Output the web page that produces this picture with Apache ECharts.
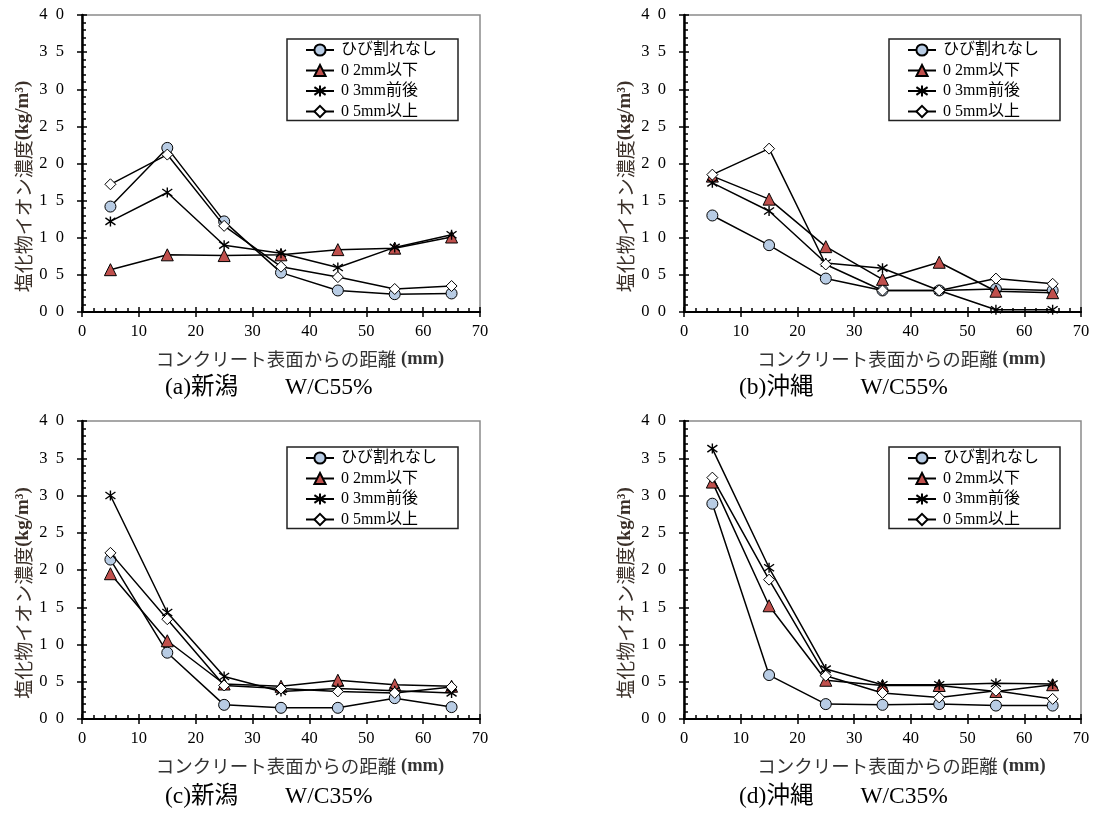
<!DOCTYPE html>
<html>
<head>
<meta charset="utf-8">
<script src="https://cdn.jsdelivr.net/npm/echarts@6/dist/echarts.min.js"></script>
<style>
html,body{margin:0;padding:0;background:#fff;}
#c{width:1097px;height:817px;}
</style>
</head>
<body>
<div id="c"></div>
<script>
// ---- data ----
const distances = [5, 15, 25, 35, 45, 55, 65];
const seriesNames = ['ひび割れなし', '0 2mm以下', '0 3mm前後', '0 5mm以上'];
const xTickLabels = ['0', '10', '20', '30', '40', '50', '60', '70'];
const yTickLabels = ['0  0', '0  5', '1  0', '1  5', '2  0', '2  5', '3  0', '3  5', '4  0'];
const captions = ['(a)新潟　　W/C55%', '(b)沖縄　　W/C55%', '(c)新潟　　W/C35%', '(d)沖縄　　W/C35%'];

// (a) 新潟 W/C55%
const a_none = [1.42, 2.21, 1.22, 0.53, 0.29, 0.24, 0.25];
const a_02   = [0.57, 0.77, 0.76, 0.77, 0.84, 0.86, 1.01];
const a_03   = [1.22, 1.61, 0.90, 0.79, 0.60, 0.87, 1.04];
const a_05   = [1.72, 2.12, 1.16, 0.61, 0.47, 0.31, 0.35];
// (b) 沖縄 W/C55%
const b_none = [1.30, 0.90, 0.45, 0.29, 0.29, 0.31, 0.29];
const b_02   = [1.83, 1.52, 0.88, 0.44, 0.67, 0.28, 0.26];
const b_03   = [1.74, 1.36, 0.66, 0.59, 0.29, 0.03, 0.03];
const b_05   = [1.85, 2.20, 0.64, 0.29, 0.29, 0.45, 0.38];
// (c) 新潟 W/C35%
const c_none = [2.14, 0.89, 0.19, 0.15, 0.15, 0.28, 0.16];
const c_02   = [1.95, 1.05, 0.47, 0.44, 0.52, 0.46, 0.44];
const c_03   = [3.00, 1.43, 0.57, 0.37, 0.41, 0.38, 0.35];
const c_05   = [2.23, 1.34, 0.45, 0.41, 0.37, 0.35, 0.43];
// (d) 沖縄 W/C35%
const d_none = [2.89, 0.59, 0.20, 0.19, 0.20, 0.18, 0.18];
const d_02   = [3.18, 1.52, 0.52, 0.45, 0.45, 0.37, 0.46];
const d_03   = [3.63, 2.03, 0.67, 0.46, 0.46, 0.48, 0.47];
const d_05   = [3.24, 1.87, 0.58, 0.35, 0.29, 0.38, 0.27];

const panels = [
  [a_none, a_02, a_03, a_05],
  [b_none, b_02, b_03, b_05],
  [c_none, c_02, c_03, c_05],
  [d_none, d_02, d_03, d_05]
];

// ---- layout ----
const grids = [
  {left: 82, top: 15, width: 398, height: 297},
  {left: 684, top: 15, width: 397, height: 297},
  {left: 82, top: 421, width: 398, height: 298},
  {left: 684, top: 421, width: 397, height: 298}
];
const legendPos = [[287, 39], [889, 39], [287, 447], [889, 447]];
const captionPos = [[165, 376], [739, 376], [165, 785], [739, 785]];

const SERIF = '"Liberation Serif", "Times New Roman", "Noto Sans CJK JP", serif';
const JP = '"Noto Sans CJK JP", sans-serif';

const asterisk = 'path://M0,1.5L10,8.5M0,8.5L10,1.5M5,0L5,10';
const symbolDefs = [
  {symbol: 'circle', symbolSize: 11, itemStyle: {color: '#b8cce4', borderColor: '#000', borderWidth: 1}},
  {symbol: 'triangle', symbolSize: 12, itemStyle: {color: '#c0504d', borderColor: '#000', borderWidth: 1}},
  {symbol: asterisk, symbolSize: 10, itemStyle: {color: '#000', borderColor: '#000', borderWidth: 1.4}},
  {symbol: 'diamond', symbolSize: 11, itemStyle: {color: '#fff', borderColor: '#000', borderWidth: 1}}
];

const xAxes = [], yAxes = [], series = [], legends = [], titles = [];

grids.forEach((g, k) => {
  xAxes.push({
    type: 'value', gridIndex: k, min: 0, max: 70, interval: 10, position: 'bottom',
    axisLine: {show: true, onZero: false, lineStyle: {color: '#000', width: 2}},
    axisTick: {show: true, inside: true, length: 5, lineStyle: {color: '#000', width: 1.5}},
    minorTick: {show: true, splitNumber: 5, length: 4, lineStyle: {color: '#000', width: 1.5}},
    splitLine: {show: false},
    axisLabel: {
      margin: 11, color: '#000', fontFamily: SERIF, fontSize: 16.5,
      formatter: v => xTickLabels[Math.round(v / 10)]
    },
    name: '{j|コンクリート表面からの距離}{e| (mm)}',
    nameLocation: 'middle', nameGap: 38,
    nameTextStyle: {
      padding: [0, 0, 0, 38],
      rich: {
        j: {fontFamily: JP, fontSize: 18.5, color: '#333'},
        e: {fontFamily: SERIF, fontSize: 18.5, fontWeight: 'bold', color: '#333'}
      }
    }
  });
  xAxes.push({
    type: 'value', gridIndex: k, min: 0, max: 70, interval: 10, position: 'bottom',
    axisLine: {show: false, onZero: false},
    axisTick: {show: true, inside: false, length: 5, lineStyle: {color: '#000', width: 1.5}},
    axisLabel: {show: false}, splitLine: {show: false}
  });
  yAxes.push({
    type: 'value', gridIndex: k, min: 0, max: 4, interval: 0.5, position: 'left',
    axisLine: {show: true, onZero: false, lineStyle: {color: '#000', width: 2.5}},
    axisTick: {show: true, inside: true, length: 5, lineStyle: {color: '#000', width: 1.5}},
    minorTick: {show: true, splitNumber: 5, length: 4, lineStyle: {color: '#000', width: 1.5}},
    splitLine: {show: false},
    axisLabel: {
      margin: 18, color: '#000', fontFamily: SERIF, fontSize: 16.5,
      formatter: v => yTickLabels[Math.round(v / 0.5)]
    },
    name: '{j|塩化物イオン濃度}{e|(kg/m³)}',
    nameLocation: 'middle', nameGap: 49, nameRotate: 90,
    nameTextStyle: {
      padding: [0, 46, 0, 0],
      rich: {
        j: {fontFamily: JP, fontSize: 19, color: '#3b3029'},
        e: {fontFamily: SERIF, fontSize: 19, fontWeight: 'bold', color: '#3b3029'}
      }
    }
  });
  yAxes.push({
    type: 'value', gridIndex: k, min: 0, max: 4, interval: 0.5, position: 'left',
    axisLine: {show: false, onZero: false},
    axisTick: {show: true, inside: false, length: 5, lineStyle: {color: '#000', width: 1.5}},
    axisLabel: {show: false}, splitLine: {show: false}
  });

  panels[k].forEach((vals, s) => {
    const d = symbolDefs[s];
    series.push({
      type: 'line', name: seriesNames[s],
      xAxisIndex: 2 * k, yAxisIndex: 2 * k,
      data: distances.map((x, i) => [x, vals[i]]),
      symbol: d.symbol, symbolSize: d.symbolSize, symbolKeepAspect: true,
      showAllSymbol: true,
      itemStyle: d.itemStyle,
      lineStyle: {color: '#000', width: 1.5},
      emphasis: {disabled: true},
      animation: false,
      z: 3 + s
    });
  });

  legends.push({
    left: legendPos[k][0], top: legendPos[k][1],
    orient: 'vertical',
    data: seriesNames,
    itemWidth: 28, itemHeight: 14, itemGap: 4.5,
    padding: [3, 21, 1, 18],
    borderColor: '#222', borderWidth: 1.5,
    backgroundColor: '#fff',
    selectedMode: false,
    textStyle: {fontFamily: SERIF, fontSize: 16, color: '#000', padding: [0, 0, 0, 2]}
  });

  titles.push({
    text: captions[k],
    left: captionPos[k][0], top: captionPos[k][1], padding: 0,
    textStyle: {fontFamily: SERIF, fontSize: 23.5, fontWeight: 'normal', color: '#000'}
  });
});

const chart = echarts.init(document.getElementById('c'), null, {renderer: 'canvas'});
chart.setOption({
  animation: false,
  backgroundColor: '#fff',
  title: titles,
  legend: legends,
  grid: grids.map(g => Object.assign({show: true, borderColor: '#8a8a8a', borderWidth: 1.5, backgroundColor: 'transparent'}, g)),
  xAxis: xAxes,
  yAxis: yAxes,
  series: series
});
</script>
</body>
</html>
